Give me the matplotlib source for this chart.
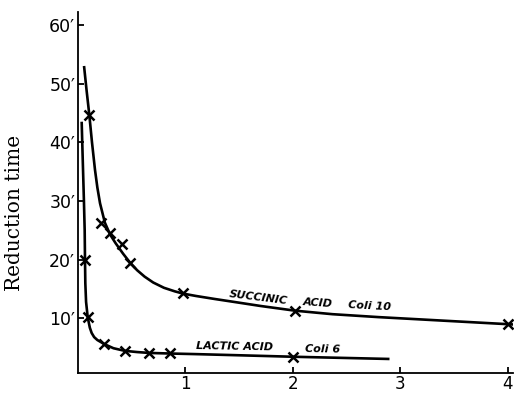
import numpy as np
import matplotlib.pyplot as plt

# reduction time (minutes)
succ_x = [0.105, 0.214, 0.298, 0.406, 0.484, 0.98, 2.02, 4.0]
succ_y = [44.7, 26.2, 24.5, 22.7, 19.4, 14.3, 11.2, 9.0]
lact_x = [0.065, 0.09, 0.245, 0.437, 0.66, 0.856, 2.0]
lact_y = [20.0, 10.2, 5.7, 4.4, 4.15, 4.15, 3.4]

# hand drawn curves, traced point by point
succ_cx = [0.056, 0.08, 0.105, 0.13, 0.158, 0.18, 0.205, 0.25, 0.298, 0.35, 0.42, 0.484,
           0.55, 0.62, 0.7, 0.8, 0.9, 0.98, 1.1, 1.27, 1.45, 1.7, 2.02, 2.37, 2.8, 3.3, 4.0, 4.1]
succ_cy = [53.0, 48.8, 44.7, 40.0, 35.3, 32.3, 29.6, 26.3, 24.3, 22.8, 21.0, 19.5,
           18.2, 17.1, 16.1, 15.2, 14.6, 14.2, 13.8, 13.3, 12.8, 12.1, 11.3, 10.7, 10.2, 9.7, 9.0, 8.9]
lact_cx = [0.034, 0.044, 0.055, 0.062, 0.065, 0.068, 0.075, 0.09, 0.11, 0.127, 0.15, 0.18,
           0.245, 0.33, 0.437, 0.55, 0.66, 0.856, 1.09, 1.5, 2.0, 2.9]
lact_cy = [43.5, 37.0, 30.0, 25.0, 20.0, 16.0, 12.8, 10.2, 8.4, 7.5, 6.8, 6.3,
           5.6, 4.9, 4.45, 4.25, 4.1, 4.0, 3.9, 3.7, 3.45, 3.07]

yticks = [10, 20, 30, 40, 50, 60]
ytick_labels = ["10\u2032", "20\u2032", "30\u2032", "40\u2032", "50\u2032", "60\u2032"]
xticks = [1, 2, 3, 4]
xtick_labels = ["1", "2", "3", "4"]

fig = plt.figure(figsize=(5.16, 3.93), dpi=100)
ax = fig.add_axes([0.1512, 0.0509, 0.843, 0.9186])

ax.plot(succ_cx, succ_cy, color="black", lw=1.9, solid_capstyle="butt")
ax.plot(lact_cx, lact_cy, color="black", lw=1.9, solid_capstyle="butt")
ax.plot(succ_x, succ_y, "x", color="black", ms=7.5, mew=1.8)
ax.plot(lact_x, lact_y, "x", color="black", ms=7.5, mew=1.8)

ax.set_xlim(0, 4.05)
ax.set_ylim(0.68, 62.2)
for s in ["top", "right"]:
    ax.spines[s].set_visible(False)
for s in ["left", "bottom"]:
    ax.spines[s].set_linewidth(1.3)

ax.set_yticks(yticks)
ax.set_yticklabels(ytick_labels, fontsize=12.5)
ax.set_xticks(xticks)
ax.set_xticklabels(xtick_labels, fontsize=12)
ax.tick_params(direction="in", length=4, width=1.3, pad=2)
ax.tick_params(axis="x", pad=1.5)

# curve labels
lab = dict(fontsize=8, style="italic", weight="bold", ha="center", va="center",
           rotation_mode="anchor")
ax.text(1.68, 13.6, "SUCCINIC", rotation=-7, **lab)
ax.text(2.23, 12.6, "ACID", rotation=-4, **lab)
ax.text(2.71, 12.0, "Coli 10", rotation=-3, **lab)
ax.text(1.46, 5.1, "LACTIC ACID", rotation=-1, **lab)
ax.text(2.28, 4.8, "Coli 6", rotation=-1, **lab)

fig.text(15 / 516, 1 - 213 / 393, "Reduction time", rotation=90, ha="center", va="center",
         fontsize=14.5, family="DejaVu Serif")

fig.savefig("out.png", dpi=100)
